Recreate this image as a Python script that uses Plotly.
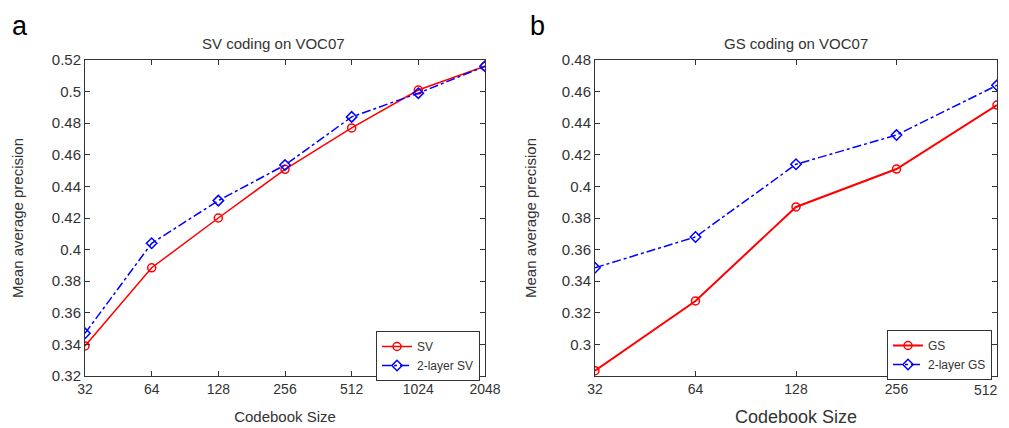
import plotly.graph_objects as go

# codebook sizes
sizes_sv = [32, 64, 128, 256, 512, 1024, 2048]
sizes_gs = [32, 64, 128, 256, 512]

# panel a: SV coding
sv = [0.339, 0.3885, 0.420, 0.4508, 0.477, 0.501, 0.516]
sv_2layer = [0.347, 0.404, 0.431, 0.4535, 0.484, 0.499, 0.516]

# panel b: GS coding
gs = [0.2834, 0.3275, 0.387, 0.411, 0.4515]
gs_2layer = [0.3485, 0.368, 0.414, 0.4325, 0.464]

sv_yticks = [0.32, 0.34, 0.36, 0.38, 0.40, 0.42, 0.44, 0.46, 0.48, 0.50, 0.52]
sv_ylabels = ["0.32", "0.34", "0.36", "0.38", "0.4", "0.42", "0.44", "0.46", "0.48", "0.5", "0.52"]
gs_yticks = [0.30, 0.32, 0.34, 0.36, 0.38, 0.40, 0.42, 0.44, 0.46, 0.48]
gs_ylabels = ["0.3", "0.32", "0.34", "0.36", "0.38", "0.4", "0.42", "0.44", "0.46", "0.48"]

RED = "#ff0000"
BLUE = "#0000ff"
FONT = "Liberation Sans, Arial, sans-serif"
TXT = "#333333"

# the page body has an 8px margin, so the figure is 16px smaller and shifted
W, H = 1001, 420


def px(x):
    return (x - 8) / W


def py(y):
    return 1 - (y - 8) / H


fig = go.Figure()

fig.add_trace(go.Scatter(x=sizes_sv, y=sv, name="SV", mode="lines+markers",
                         line=dict(color=RED, width=1.5),
                         marker=dict(symbol="circle-open", size=8, color=RED, line=dict(width=1.5)),
                         xaxis="x", yaxis="y", legend="legend"))
fig.add_trace(go.Scatter(x=sizes_sv, y=sv_2layer, name="2-layer SV", mode="lines+markers",
                         line=dict(color=BLUE, width=1.5, dash="dashdot"),
                         marker=dict(symbol="diamond-open", size=8, color=BLUE, line=dict(width=1.5)),
                         xaxis="x", yaxis="y", legend="legend"))
fig.add_trace(go.Scatter(x=sizes_gs, y=gs, name="GS", mode="lines+markers",
                         line=dict(color=RED, width=2),
                         marker=dict(symbol="circle-open", size=8, color=RED, line=dict(width=1.5)),
                         xaxis="x2", yaxis="y2", legend="legend2"))
fig.add_trace(go.Scatter(x=sizes_gs, y=gs_2layer, name="2-layer GS", mode="lines+markers",
                         line=dict(color=BLUE, width=1.5, dash="dashdot"),
                         marker=dict(symbol="diamond-open", size=8, color=BLUE, line=dict(width=1.5)),
                         xaxis="x2", yaxis="y2", legend="legend2"))

axis_common = dict(showgrid=False, zeroline=False, showline=True, linecolor="#333",
                   linewidth=1, mirror="ticks", ticks="inside", ticklen=5, tickcolor="#333",
                   automargin=False, ticklabeloverflow="allow",
                   tickfont=dict(size=15, color=TXT, family=FONT))
xtickfont = dict(size=14, color=TXT, family=FONT)

# last label of panel b sits on the page edge, so it is drawn right-aligned below
gs_xlabels = [str(s) for s in sizes_gs[:-1]] + [""]


def label(text, x, y, size, color=TXT, yanchor="middle", xanchor="center"):
    return dict(text=text, x=px(x), y=py(y), xref="paper", yref="paper",
                xanchor=xanchor, yanchor=yanchor, showarrow=False,
                font=dict(size=size, color=color))


fig.update_layout(
    width=W, height=H,
    margin=dict(l=0, r=0, t=0, b=0),
    paper_bgcolor="white", plot_bgcolor="white",
    font=dict(family=FONT, color=TXT),
    xaxis=dict(axis_common, type="log", domain=[px(85), px(485)], tickfont=xtickfont,
               range=[1.50515, 3.31133], tickvals=sizes_sv, ticktext=[str(s) for s in sizes_sv],
               anchor="y",
               title=dict(text="Codebook Size", font=dict(size=15, color=TXT), standoff=15)),
    yaxis=dict(axis_common, domain=[py(376), py(60)], range=[0.32, 0.52],
               tickvals=sv_yticks, ticktext=sv_ylabels, anchor="x",
               title=dict(text="Mean average precision", font=dict(size=15, color=TXT), standoff=24)),
    xaxis2=dict(axis_common, type="log", domain=[px(595), px(997)], tickfont=xtickfont,
                range=[1.50515, 2.70927], tickvals=sizes_gs, ticktext=gs_xlabels,
                anchor="y2",
                title=dict(text="Codebook Size", font=dict(size=18, color=TXT), standoff=14)),
    yaxis2=dict(axis_common, domain=[py(376), py(60)], range=[0.28, 0.48],
                tickvals=gs_yticks, ticktext=gs_ylabels, anchor="x2",
                title=dict(text="Mean average precision", font=dict(size=15, color=TXT), standoff=21)),
    legend=dict(x=px(480), xanchor="right", y=py(331), yanchor="top",
                bgcolor="white", bordercolor="#333", borderwidth=1,
                font=dict(size=12, color=TXT), tracegroupgap=0, itemwidth=30),
    legend2=dict(x=px(992), xanchor="right", y=py(330), yanchor="top",
                 bgcolor="white", bordercolor="#333", borderwidth=1,
                 font=dict(size=12, color=TXT), tracegroupgap=0, itemwidth=30),
    annotations=[
        label("SV coding on VOC07", 273, 43, 15),
        label("GS coding on VOC07", 796, 43, 15),
        label("a", 20, 9, 27, "black", "top"),
        label("b", 537, 9, 27, "black", "top"),
        label(str(sizes_gs[-1]), 1000, 390, 14, xanchor="right"),
    ],
)

fig.write_html("out.html")
